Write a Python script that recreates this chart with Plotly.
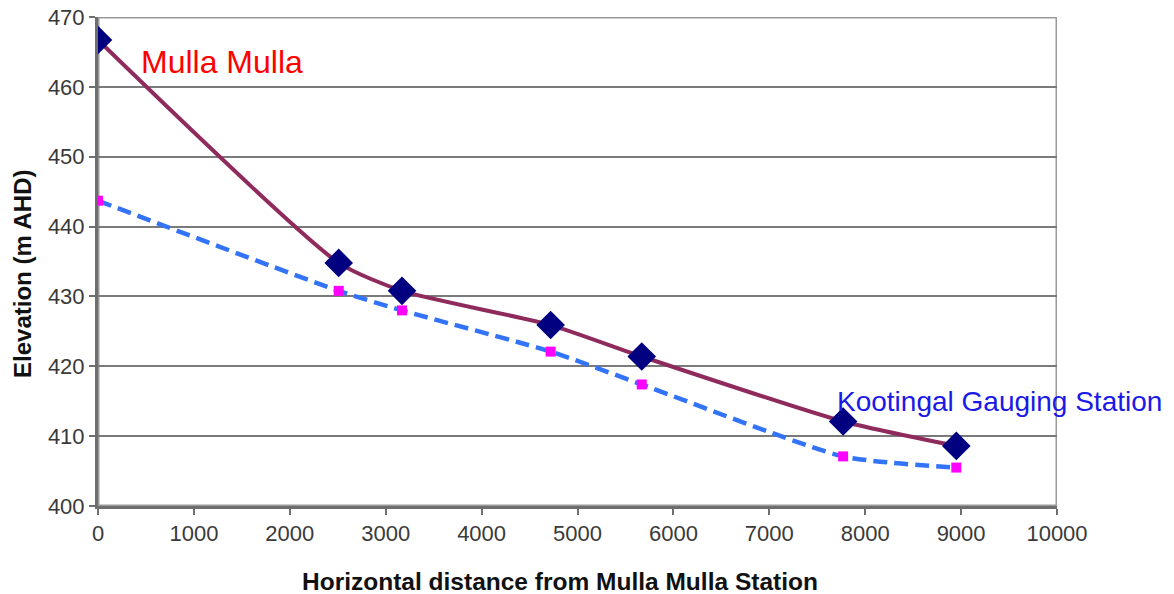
import plotly.graph_objects as go

# Longitudinal profile along the creek (distance in metres, elevation in m AHD)
distance = [0, 2510, 3170, 4720, 5670, 7770, 8950]
bed_upper = [466.7, 434.8, 430.8, 425.9, 421.4, 412.1, 408.6]
bed_lower = [443.7, 430.8, 428.0, 422.1, 417.4, 407.1, 405.5]

x_ticks = list(range(0, 10001, 1000))
y_ticks = list(range(400, 471, 10))

FONT = "Liberation Sans, Arial, sans-serif"
AXIS_GREY = "#6E6E6E"

fig = go.Figure()

fig.add_trace(go.Scatter(
    x=distance, y=bed_lower, mode="lines+markers",
    line=dict(color="#3373F7", width=4.5, dash="14px,7px", shape="spline", smoothing=0.6),
    marker=dict(symbol="square", size=10, color="#FF00FF"),
    showlegend=False,
))
fig.add_trace(go.Scatter(
    x=distance, y=bed_upper, mode="lines+markers",
    line=dict(color="#8E2A5C", width=4, shape="spline", smoothing=0.6),
    marker=dict(symbol="diamond", size=22, color="#000080"),
    showlegend=False,
))

# station labels
fig.add_annotation(x=430, y=463.6, xref="x", yref="y", text="Mulla Mulla",
                   showarrow=False, xanchor="left", yanchor="middle",
                   font=dict(family=FONT, size=32, color="#FF0000"))
fig.add_annotation(x=7690, y=415.0, xref="x", yref="y", text="Kootingal Gauging Station",
                   showarrow=False, xanchor="left", yanchor="middle",
                   font=dict(family=FONT, size=28, color="#1A1AE6"))

# axis titles
fig.add_annotation(x=-0.0793, y=0.4744, xref="paper", yref="paper",
                   text="<b>Elevation (m AHD)</b>", textangle=-90, showarrow=False,
                   xanchor="center", yanchor="middle",
                   font=dict(family=FONT, size=24, color="#111111"))
fig.add_annotation(x=0.4818, y=-0.1534, xref="paper", yref="paper",
                   text="<b>Horizontal distance from Mulla Mulla Station</b>", showarrow=False,
                   xanchor="center", yanchor="middle",
                   font=dict(family=FONT, size=24.5, color="#111111"))

# plot-area border
fig.add_shape(type="rect", xref="x", yref="y", x0=0, x1=10000, y0=400, y1=470,
              line=dict(color="#9A9A9A", width=3), layer="below")

fig.update_xaxes(
    range=[0, 10000], tickvals=x_ticks, ticktext=[str(v) for v in x_ticks],
    showgrid=False, zeroline=False, automargin=False,
    showline=True, linecolor=AXIS_GREY, linewidth=3,
    ticks="outside", ticklen=6, tickwidth=2, tickcolor=AXIS_GREY,
    tickfont=dict(family=FONT, size=22, color="#3A3A3A"),
)
fig.update_yaxes(
    range=[400, 470], tickvals=y_ticks, zeroline=False, automargin=False,
    showgrid=True, gridcolor="#7A7A7A", gridwidth=2,
    showline=True, linecolor=AXIS_GREY, linewidth=3,
    ticks="outside", ticklen=6, tickwidth=2, tickcolor=AXIS_GREY,
    tickfont=dict(family=FONT, size=22, color="#3A3A3A"),
)

fig.update_layout(
    width=1174, height=594,
    margin=dict(l=98, r=117, t=17, b=88),
    plot_bgcolor="white", paper_bgcolor="white",
)

fig.write_html("out.html")
